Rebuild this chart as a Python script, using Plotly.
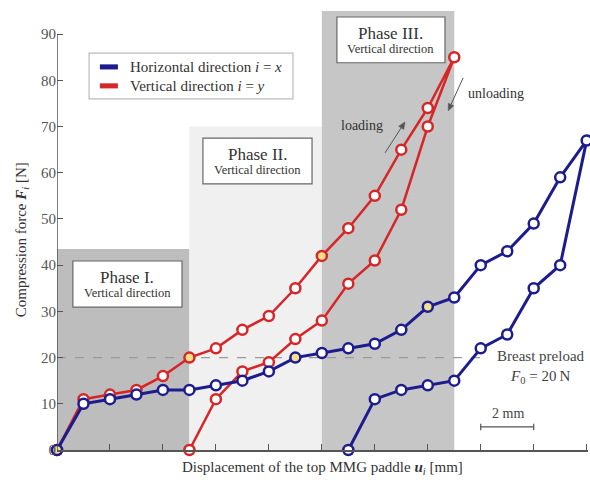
import math
import plotly.graph_objects as go

# ---- data (displacement in mm, force in N) ----
red_load_x = [0, 1, 2, 3, 4, 5, 6, 7, 8, 9, 10, 11, 12, 13, 14, 15]
red_load_y = [0, 11, 12, 13, 16, 20, 22, 26, 29, 35, 42, 48, 55, 65, 74, 85]
red_unload_x = [14, 13, 12, 11, 10, 9, 8, 7, 6, 5]
red_unload_y = [70, 52, 41, 36, 28, 24, 19, 17, 11, 0]

blue_load_x = [0, 1, 2, 3, 4, 5, 6, 7, 8, 9, 10, 11, 12, 13, 14, 15, 16, 17, 18, 19, 20]
blue_load_y = [0, 10, 11, 12, 13, 13, 14, 15, 17, 20, 21, 22, 23, 26, 31, 33, 40, 43, 49, 59, 67]
blue_unload_x = [19, 18, 17, 16, 15, 14, 13, 12, 11]
blue_unload_y = [40, 35, 25, 22, 15, 14, 13, 11, 0]

phase_names = ["Phase I.", "Phase II.", "Phase III."]
phase_start = [0, 5, 10]
phase_end = [5, 10, 15]
phase_top = [43.5, 70, 95]
y_ticks = [0, 10, 20, 30, 40, 50, 60, 70, 80, 90]
x_ticks = [0, 2, 4, 6, 8, 10, 12, 14, 16, 18, 20]
preload = 20

FONT = "Liberation Serif"
RED = "#d62628"
BLUE = "#1c1c8f"
HILITE = "#f3e08a"

# plot geometry (for converting decoration pixel offsets)
ML, MR, MT, MB, W, H = 57, 2, 11, 30, 590, 480
XR = [0, 20.05]
YR = [0, 95]
PXX = (W - ML - MR) / (XR[1] - XR[0])
PXY = (H - MT - MB) / (YR[1] - YR[0])

fig = go.Figure()

def series(xs, ys, color, hl, lw):
    fills = ["white"] * len(xs)
    for i in hl:
        fills[i] = HILITE
    fig.add_trace(go.Scatter(
        x=xs, y=ys, mode="lines+markers", cliponaxis=False, showlegend=False,
        line=dict(color=color, width=lw),
        marker=dict(symbol="circle", size=10, color=fills, line=dict(color=color, width=2.5)),
    ))

rx = red_load_x + red_unload_x
ry = red_load_y + red_unload_y
bx = blue_load_x + blue_unload_x
by = blue_load_y + blue_unload_y
series(rx, ry, RED, [0, 5, 10], 2.5)
series(bx, by, BLUE, [0, 9, 14], 3)

shapes = []
fills = ["#bdbdbd", "#f0f0f0", "#c6c6c6"]
for s, e, t, c in zip(phase_start, phase_end, phase_top, fills):
    shapes.append(dict(type="rect", xref="x", yref="y", x0=s, x1=e, y0=0, y1=t,
                       fillcolor=c, line=dict(width=0), layer="below"))
shapes.append(dict(type="line", xref="x", yref="y", x0=0, x1=16.2, y0=preload, y1=preload,
                   line=dict(color="#9a9a9a", width=1.2, dash="dash"), layer="below"))
shapes.append(dict(type="line", xref="x", yref="y", x0=0, x1=0, y0=0, y1=y_ticks[-1],
                   line=dict(color="#555555", width=1.5)))

boxes = [(0.60, 4.72, 30.9, 40.9), (5.51, 9.63, 57.6, 67.5), (10.57, 14.65, 83.8, 93.7)]
annotations = []
for name, (x0, x1, y0, y1) in zip(phase_names, boxes):
    shapes.append(dict(type="rect", xref="x", yref="y", x0=x0, x1=x1, y0=y0, y1=y1,
                       fillcolor="white", line=dict(color="#666666", width=1.2)))
    xc = (x0 + x1) / 2
    annotations.append(dict(x=xc, y=y1 - 3.5, xref="x", yref="y", text=name, showarrow=False,
                            font=dict(family=FONT, size=17, color="#333333")))
    annotations.append(dict(x=xc, y=y0 + 3.0, xref="x", yref="y", text="Vertical direction",
                            showarrow=False, font=dict(family=FONT, size=12.5, color="#333333")))

shapes.append(dict(type="rect", xref="x", yref="y", x0=1.21, x1=8.91, y0=76.0, y1=85.9,
                   fillcolor="white", line=dict(color="#bbbbbb", width=1.2)))
for yc, col, lab in [(82.9, BLUE, "Horizontal direction <i>i</i> = <i>x</i>"),
                     (78.8, RED, "Vertical direction <i>i</i> = <i>y</i>")]:
    shapes.append(dict(type="rect", xref="x", yref="y", x0=1.62, x1=2.30, y0=yc - 0.55, y1=yc + 0.55,
                       fillcolor=col, line=dict(width=0)))
    annotations.append(dict(x=2.68, y=yc, xref="x", yref="y", text=lab, showarrow=False,
                            xanchor="left", font=dict(family=FONT, size=15, color="#333333")))

def arrow(hx, hy, dxp, dyp):
    """arrow with head at data (hx, hy); tail offset in pixels (dxp right, dyp down)"""
    tx, ty = hx + dxp / PXX, hy - dyp / PXY
    L = math.hypot(dxp, dyp)
    ux, uy = -dxp / L, -dyp / L
    hl, hw = 7, 3
    bxp, byp = -ux * hl, -uy * hl
    px_, py_ = -uy * hw, ux * hw
    pts = [(0, 0), (bxp + px_, byp + py_), (bxp - px_, byp - py_)]
    path = "M " + " L ".join(f"{hx + a / PXX},{hy - b / PXY}" for a, b in pts) + " Z"
    shapes.append(dict(type="line", xref="x", yref="y", x0=tx, y0=ty,
                       x1=hx + bxp / PXX, y1=hy - byp / PXY, line=dict(color="#555555", width=1)))
    shapes.append(dict(type="path", xref="x", yref="y", path=path,
                       fillcolor="#555555", line=dict(color="#555555", width=0.5)))

annotations.append(dict(x=11.52, y=70.3, xref="x", yref="y", text="loading", showarrow=False,
                        font=dict(family=FONT, size=14, color="#333333")))
arrow(13.14, 71.0, -20, 31)
annotations.append(dict(x=16.58, y=77.1, xref="x", yref="y", text="unloading", showarrow=False,
                        font=dict(family=FONT, size=14, color="#333333")))
arrow(14.77, 73.4, 15, -33)

annotations.append(dict(x=18.28, y=20.3, xref="x", yref="y", text="Breast preload", showarrow=False,
                        font=dict(family=FONT, size=15, color="#444444")))
annotations.append(dict(x=18.24, y=15.8, xref="x", yref="y", text="<i>F</i><sub>0</sub> = 20\u2009N",
                        showarrow=False, font=dict(family=FONT, size=15, color="#444444")))

shapes.append(dict(type="line", xref="x", yref="y", x0=16, x1=18, y0=5, y1=5,
                   line=dict(color="#555555", width=1.2)))
for xe in (16, 18):
    shapes.append(dict(type="line", xref="x", yref="y", x0=xe, x1=xe, y0=4.3, y1=5.7,
                       line=dict(color="#555555", width=1.2)))
annotations.append(dict(x=17.03, y=8.0, xref="x", yref="y", text="2 mm", showarrow=False,
                        font=dict(family=FONT, size=14, color="#444444")))

annotations.append(dict(x=0.5, y=-0.041, xref="paper", yref="paper",
                        text="Displacement of the top MMG paddle <b><i>u</i></b><sub><i>i</i></sub> [mm]",
                        showarrow=False, yanchor="middle",
                        font=dict(family=FONT, size=15, color="#333333")))
annotations.append(dict(x=-0.066, y=0.48, xref="paper", yref="paper", textangle=-90,
                        text="Compression force <b><i>F</i></b><sub><i>i</i></sub> [N]",
                        showarrow=False, xanchor="center", yanchor="middle",
                        font=dict(family=FONT, size=15, color="#333333")))

fig.update_layout(
    width=W, height=H,
    margin=dict(l=ML, r=MR, t=MT, b=MB),
    paper_bgcolor="white", plot_bgcolor="white",
    shapes=shapes, annotations=annotations,
    xaxis=dict(range=XR, tickvals=x_ticks, showticklabels=False, ticks="inside",
               ticklen=6, tickcolor="#555555", tickwidth=1.2, showgrid=False, zeroline=False,
               showline=True, linecolor="#555555", linewidth=1.5),
    yaxis=dict(range=YR, tickvals=y_ticks, ticks="inside", ticklen=6, tickcolor="#555555",
               tickwidth=1.2, showgrid=False, zeroline=False, showline=False,
               tickfont=dict(family=FONT, size=15, color="#555555")),
)

fig.write_html("out.html", config={"displayModeBar": False},
               post_script="document.body.style.margin='0';document.body.style.overflow='hidden';")
